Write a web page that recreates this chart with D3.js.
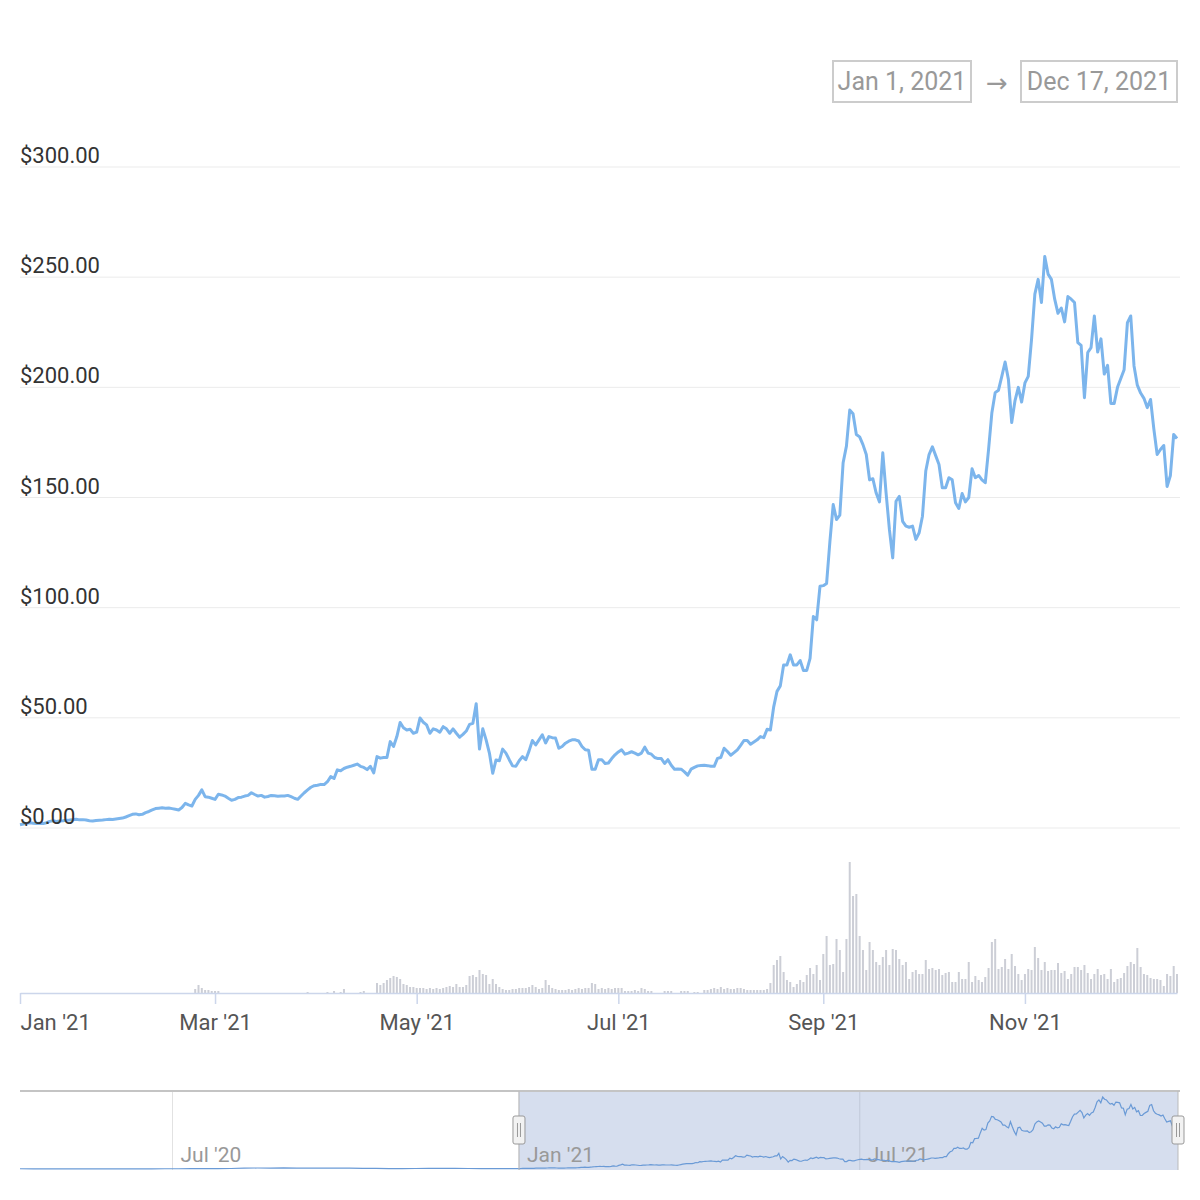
<!DOCTYPE html>
<html>
<head>
<meta charset="utf-8">
<script src="https://cdn.jsdelivr.net/npm/d3@7"></script>
<style>
  body { margin: 0; background: #fff; }
  svg { display: block; font-family: Roboto, "Noto Sans", sans-serif; }
</style>
</head>
<body>
<div id="chart"></div>
<script>
const startDate = '2021-01-01';
const endDate = '2021-12-17';
const navStartDate = '2020-04-11';

// daily price in USD from Jan 1 2021, one line per month
const price2021 = [
  1.5,1.8,2.1,2.4,2.2,2.0,2.2,2.0,2.4,3.0,3.3,3.0,3.2,3.3,3.5,3.6,3.8,4.0,3.7,3.8,3.6,3.3,3.2,3.4,3.5,3.6,3.8,4.0,3.9,4.1,4.3,
  4.5,5.0,5.6,6.2,6.4,6.0,6.2,7.0,7.5,8.2,8.8,9.0,9.2,9.0,9.1,8.8,8.5,8.2,9.3,11.2,10.5,10.0,13.0,14.8,17.3,14.2,14.0,13.5,
  13.0,15.3,15.0,14.5,13.5,12.6,13.0,13.8,14.0,14.5,14.8,16.0,15.2,14.5,14.8,14.0,14.3,14.8,14.6,14.4,14.5,14.5,14.8,14.2,13.5,13.0,14.5,16.0,17.3,18.5,19.2,
  19.4,19.8,19.7,21.0,23.3,22.5,26.4,26.0,27.0,27.6,28.0,28.5,29.0,28.0,27.5,26.5,28.0,25.0,32.4,31.7,32.0,32.0,39.2,37.0,41.5,47.9,45.5,44.5,44.8,43.0,
  43.5,49.9,48.0,46.8,43.0,45.0,44.5,43.5,46.0,45.0,43.0,45.0,43.0,41.2,42.5,44.0,47.0,47.5,56.4,35.8,45.0,40.0,34.0,24.8,30.9,30.5,35.8,34.0,31.0,28.2,28.0,
  30.5,32.4,31.0,35.0,39.7,37.7,40.0,42.3,38.6,41.5,41.0,40.8,36.2,37.0,38.5,39.4,40.0,40.0,39.5,37.0,35.5,35.3,26.7,26.7,31.0,31.0,29.3,29.5,31.5,33.2,
  34.5,35.5,33.5,34.0,34.6,34.0,33.2,34.0,36.7,34.0,33.5,32.0,31.5,31.5,29.3,31.0,28.5,26.7,26.8,26.7,25.5,24.0,26.7,27.5,28.2,28.4,28.5,28.3,28.0,28.0,31.6,
  32.0,36.2,34.7,33.0,34.2,35.5,37.5,39.7,39.7,38.0,39.0,40.0,41.5,41.0,44.8,44.5,55.0,62.0,64.5,74.0,74.0,78.6,74.0,74.0,76.0,71.5,71.5,77.0,96.0,94.5,109.7,
  110.0,111.0,130.0,146.8,140.0,142.0,165.8,173.3,189.7,188.0,178.6,177.5,174.0,169.5,158.0,158.5,152.0,148.0,170.3,152.0,135.5,122.6,148.3,150.5,139.2,137.0,136.5,137.0,131.0,134.0,
  141.5,162.0,169.5,173.0,169.0,165.0,154.4,154.4,159.0,158.0,147.6,145.0,151.8,148.0,150.0,163.0,159.0,160.0,158.0,156.7,171.8,188.5,197.6,198.7,205.0,211.5,203.6,184.0,194.0,200.0,193.3,
  202.0,205.0,221.8,242.3,249.0,238.5,259.4,251.4,249.0,240.0,233.6,236.0,229.7,241.2,240.0,238.5,220.3,219.0,195.3,215.8,218.0,232.4,216.0,222.0,206.0,210.0,192.7,192.7,200.0,204.0,
  208.0,229.4,232.4,209.7,201.0,197.4,195.0,190.8,194.5,181.0,169.5,171.8,173.6,155.0,160.0,178.6,176.8
];

// daily traded volume in $100M from Jan 1 2021, one line per month
const volume2021 = [
  0,0,0,0,0,0,0,0,0,0,0,0,0,0,0,0,0,0,0,0,0,0,0,0,0,0,0,0,0,0,0,
  0,0,0,0,0,0,0,0,0,0,0,0,0,0,0,0,0,0,0,0,0,0,4,8,5,3,3,2,
  2,2,0,0,0,0,0,0,0,0,0,0,0,0,0,0,0,0,0,0,0,0,0,0,0,0,0,0,1,0,0,
  0,0,0,1,0,2,0,1,4,0,0,0,0,1,2,0,0,0,10,8,10,13,15,17,16,14,9,8,6,6,
  5,5,5,4,5,4,5,4,5,6,7,6,9,6,6,8,17,18,16,23,19,18,9,14,9,6,4,3,3,4,4,
  5,5,5,6,8,6,4,5,13,8,5,4,3,3,3,4,3,4,5,4,5,5,10,9,4,5,4,5,4,5,
  5,5,2,2,2,3,2,5,4,2,2,0,0,0,2,2,2,0,0,2,2,2,0,1,1,0,3,3,4,5,4,
  6,4,5,4,4,5,5,4,3,3,3,3,3,3,4,10,28,33,37,21,13,11,6,9,13,11,18,25,19,28,13,
  39,57,28,29,54,43,21,54,131,97,99,57,43,23,51,43,31,28,36,43,28,44,43,34,28,31,14,21,23,19,
  19,33,24,25,23,24,18,20,21,11,11,21,14,14,31,11,17,13,11,16,25,51,54,24,26,34,24,39,27,19,13,
  19,24,23,46,35,23,31,22,23,23,30,20,22,14,19,26,26,23,28,20,14,19,24,18,19,14,24,11,14,15,
  20,27,31,29,45,26,19,18,15,14,14,13,7,19,17,27,19
];

// weekly price in USD for the navigator, from Apr 11 2020
const price2020Weekly = [
  0.95,0.65,0.62,0.68,0.6,0.58,0.62,0.7,0.75,0.62,0.7,0.85,0.95,1.1,1.35,1.6,1.85,2.9,3.6,3.5,
  4.3,3.2,3.3,3.0,2.9,3.0,2.6,2.4,1.7,1.6,1.75,2.1,2.3,1.9,1.8,1.55,1.6,1.45
];

const yTicks = [0, 50, 100, 150, 200, 250, 300];
const navTickDates = ['2020-07-01', '2021-01-01', '2021-07-01'];

const parseDate = d3.utcParse('%Y-%m-%d');
const start = parseDate(startDate);
const end = parseDate(endDate);
const navStart = parseDate(navStartDate);

let daily = price2021.map((p, i) => ({
  date: d3.utcDay.offset(start, i),
  price: p,
  volume: volume2021[i]
}));
let weekly = price2020Weekly.map((p, i) => ({ date: d3.utcWeek.offset(navStart, i), price: p }));

let width = 1200;
let height = 1200;

let svg = d3.select('#chart').append('svg')
  .attr('width', width)
  .attr('height', height);

// ---- range inputs
let fmtInput = d3.utcFormat('%b %-d, %Y');
let inputs = [
  { x: 833, w: 138, text: fmtInput(start) },
  { x: 1021, w: 156, text: fmtInput(end) }
];
svg.selectAll('.rangebox')
  .data(inputs)
  .join('rect')
  .attr('class', 'rangebox')
  .attr('x', d => d.x)
  .attr('y', 61)
  .attr('width', d => d.w)
  .attr('height', 41)
  .attr('fill', 'none')
  .attr('stroke', '#cccccc')
  .attr('stroke-width', 2);
svg.selectAll('.rangetext')
  .data(inputs)
  .join('text')
  .attr('class', 'rangetext')
  .attr('x', d => d.x + d.w / 2)
  .attr('y', 90)
  .attr('text-anchor', 'middle')
  .attr('font-size', 25)
  .attr('fill', '#999999')
  .text(d => d.text);
svg.append('text')
  .attr('x', 997)
  .attr('y', 92)
  .attr('text-anchor', 'middle')
  .attr('font-family', '"DejaVu Sans", sans-serif')
  .attr('font-size', 26)
  .attr('fill', '#999999')
  .text('\u2192');

// ---- main price panel
let x = d3.scaleUtc()
  .domain([start, end])
  .range([20, 1177]);

let y = d3.scaleLinear()
  .domain([0, 300])
  .range([828, 167]);

let yVol = d3.scaleLinear()
  .domain([0, d3.max(volume2021)])
  .range([993, 862]);

svg.selectAll('.grid')
  .data(yTicks)
  .join('line')
  .attr('class', 'grid')
  .attr('x1', 20)
  .attr('x2', 1180)
  .attr('y1', d => y(d))
  .attr('y2', d => y(d))
  .attr('stroke', '#ebebeb')
  .attr('stroke-width', 1);

svg.append('g')
  .selectAll('rect')
  .data(daily.filter(d => d.volume > 0))
  .join('rect')
  .attr('x', d => x(d.date) - 1)
  .attr('width', 2)
  .attr('y', d => yVol(d.volume))
  .attr('height', d => 993 - yVol(d.volume))
  .attr('fill', '#ccced6');

let line = d3.line()
  .x(d => x(d.date))
  .y(d => y(d.price));

svg.append('path')
  .datum(daily)
  .attr('d', line)
  .attr('fill', 'none')
  .attr('stroke', '#7cb5ec')
  .attr('stroke-width', 3)
  .attr('stroke-linejoin', 'round');

svg.selectAll('.ylabel')
  .data(yTicks)
  .join('text')
  .attr('class', 'ylabel')
  .attr('x', 20)
  .attr('y', d => y(d) - 4)
  .attr('font-size', 22)
  .attr('fill', '#333333')
  .text(d => d3.format('$,.2f')(d));

let xAxis = svg.append('g')
  .attr('transform', 'translate(0,993)')
  .call(d3.axisBottom(x)
    .ticks(d3.utcMonth.every(2))
    .tickFormat(d3.utcFormat("%b '%y"))
    .tickSize(11)
    .tickSizeOuter(0));
xAxis.select('.domain').attr('stroke', '#ccd6eb').attr('stroke-width', 1.5);
xAxis.selectAll('.tick line').attr('stroke', '#ccd6eb').attr('stroke-width', 1.5);
xAxis.selectAll('.tick text')
  .attr('font-family', 'Roboto, sans-serif')
  .attr('font-size', 22)
  .attr('fill', '#555555')
  .attr('y', 21)
  .attr('text-anchor', d => x(d) < 60 ? 'start' : 'middle');

// ---- navigator
let navData = weekly.concat(daily);
let xNav = d3.scaleUtc()
  .domain([navStart, end])
  .range([20, 1178]);
let yNav = d3.scaleLinear()
  .domain([0, d3.max(navData, d => d.price)])
  .range([1169, 1097]);

let navTicks = navTickDates.map(parseDate);
svg.selectAll('.navgrid')
  .data(navTicks)
  .join('line')
  .attr('class', 'navgrid')
  .attr('x1', d => xNav(d))
  .attr('x2', d => xNav(d))
  .attr('y1', 1091)
  .attr('y2', 1170)
  .attr('stroke', '#e2e2e2')
  .attr('stroke-width', 1);

svg.append('rect')
  .attr('x', xNav(start))
  .attr('y', 1091)
  .attr('width', xNav(end) - xNav(start))
  .attr('height', 79)
  .attr('fill', 'rgba(102,133,194,0.27)');

svg.selectAll('.navlabel')
  .data(navTicks)
  .join('text')
  .attr('class', 'navlabel')
  .attr('x', d => xNav(d) + 8)
  .attr('y', 1162)
  .attr('font-size', 21)
  .attr('fill', '#999999')
  .text(d => d3.utcFormat("%b '%y")(d));

svg.append('path')
  .datum(navData)
  .attr('d', d3.line().x(d => xNav(d.date)).y(d => yNav(d.price)))
  .attr('fill', 'none')
  .attr('stroke', '#6a9ad6')
  .attr('stroke-width', 1.2);

svg.append('line')
  .attr('x1', 20)
  .attr('x2', 1180)
  .attr('y1', 1091)
  .attr('y2', 1091)
  .attr('stroke', '#c4c4c4')
  .attr('stroke-width', 2);

let handles = [xNav(start), xNav(end)];
svg.selectAll('.edge')
  .data(handles)
  .join('line')
  .attr('class', 'edge')
  .attr('x1', d => d)
  .attr('x2', d => d)
  .attr('y1', 1091)
  .attr('y2', 1170)
  .attr('stroke', '#bbbbbb')
  .attr('stroke-width', 1);

let handle = svg.selectAll('.handle')
  .data(handles)
  .join('g')
  .attr('class', 'handle')
  .attr('transform', d => `translate(${d},1116)`);
handle.append('rect')
  .attr('x', -6)
  .attr('y', 0)
  .attr('width', 12)
  .attr('height', 28)
  .attr('rx', 2)
  .attr('fill', '#f2f2f2')
  .attr('stroke', '#999999')
  .attr('stroke-width', 1);
handle.selectAll('line')
  .data([-1.5, 1.5])
  .join('line')
  .attr('x1', d => d)
  .attr('x2', d => d)
  .attr('y1', 7)
  .attr('y2', 21)
  .attr('stroke', '#999999')
  .attr('stroke-width', 1);
</script>
</body>
</html>
